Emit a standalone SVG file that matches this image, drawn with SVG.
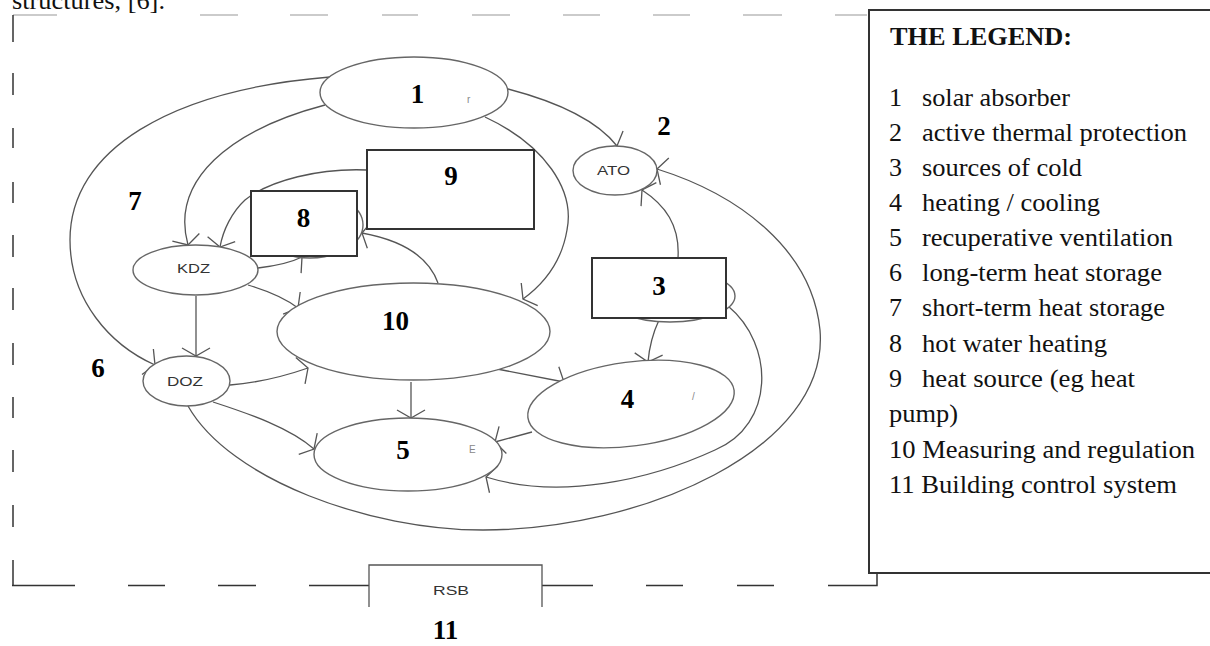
<svg xmlns="http://www.w3.org/2000/svg" width="1210" height="646" viewBox="0 0 1210 646">
<defs>
<style>
.conn{fill:none;stroke:#555;stroke-width:1.3;marker-end:url(#arr)}
.shape{fill:#fff;stroke:#666;stroke-width:1.4}
.box{fill:#fff;stroke:#333;stroke-width:2}
.lbl{font-family:"Liberation Serif","Times New Roman",serif;font-weight:bold;font-size:27px;fill:#000;text-anchor:middle}
.abbr{font-family:"Liberation Sans",Arial,sans-serif;font-size:13px;fill:#333;text-anchor:middle}
.leg{font-family:"Liberation Serif","Times New Roman",serif;font-size:26px;fill:#111}
.mark{font-family:"Liberation Sans",Arial,sans-serif;font-size:10px;fill:#888}
.dk{fill:none;stroke:#333;stroke-width:1.5}
.lt{fill:none;stroke:#bbb;stroke-width:1.5}
</style>
<marker id="arr" markerUnits="userSpaceOnUse" markerWidth="32" markerHeight="32" viewBox="-16 -16 32 32" refX="0" refY="0" orient="auto">
<path d="M-8,-14 L0,0 L-8,14" fill="none" stroke="#555" stroke-width="1.3"/>
</marker>
</defs>
<rect width="1210" height="646" fill="#fff"/>
<text class="leg" x="12" y="9" textLength="153" lengthAdjust="spacingAndGlyphs">structures, [6].</text>

<g id="frame">
<path class="lt" d="M13,15H57M200,15H238M290,15H328M382,15H418M472,15H510M563,15H600M653,15H690M743,15H782M835,15H867"/>
<path class="dk" d="M13,15V42M13,73V95M13,128V148M13,182V203M13,235V257M13,288V310M13,343V365M13,397V418M13,450V472M13,505V527M13,560V585.5"/>
<path class="dk" d="M12,585.5H75M128,585.5H165M218,585.5H256M309,585.5H369M542,585.5H593M646,585.5H683M737,585.5H774M828,585.5H877V573"/>
</g>

<g id="connectors">
<path class="conn" d="M325,105 C230,130 170,180 188,245"/>
<path class="conn" d="M330,77 C170,90 70,150 70,240 C70,300 110,345 155,365"/>
<path class="conn" d="M508,89 C550,100 595,118 617,146"/>
<path class="conn" d="M485,117 C545,145 575,190 567,230 C562,260 545,283 523,299"/>
<path class="conn" d="M678,258 C680,225 665,205 642,190"/>
<path class="conn" d="M188,406 C230,480 370,530 483,530 C640,530 830,450 820,330 C812,250 740,195 657,169"/>
<path class="conn" d="M728,306 C775,345 775,425 715,450 C650,480 560,500 486,477"/>
<path class="conn" d="M497,369 L564,382"/>
<path class="conn" d="M659,320 C652,335 649,350 648,362"/>
<path class="conn" d="M196,296 L196,356"/>
<path class="conn" d="M248,285 C265,290 285,298 298,308"/>
<path class="conn" d="M258,268 C275,266 292,262 302,257"/>
<path class="conn" d="M367,170 C320,168 270,180 245,200 C232,212 223,230 220,247"/>
<path class="conn" d="M438,283 C428,255 400,240 362,233"/>
<path class="conn" d="M230,385 C255,383 285,376 308,368"/>
<path class="conn" d="M213,402 C250,414 290,428 314,449"/>
<path class="conn" d="M411,382 L411,418"/>
<path class="conn" d="M532,432 L495,442"/>
</g>

<g id="node1">
<ellipse class="shape" cx="414" cy="92.5" rx="94" ry="35.5"/>
<text class="lbl" x="417.5" y="103">1</text>
<text class="mark" x="467" y="103">r</text>
</g>
<g id="node2">
<ellipse class="shape" cx="615" cy="170.5" rx="42" ry="24.5"/>
<text class="abbr" x="613.5" y="175" textLength="33" lengthAdjust="spacingAndGlyphs">ATO</text>
<text class="lbl" x="664" y="135">2</text>
</g>
<g id="node3">
<ellipse class="shape" cx="670" cy="296" rx="65" ry="26"/>
<rect class="box" x="592" y="258" width="134" height="60"/>
<text class="lbl" x="659" y="295">3</text>
</g>
<g id="node4">
<ellipse class="shape" cx="631" cy="404" rx="104" ry="42" transform="rotate(-7.5 631 404)"/>
<text class="lbl" x="627.5" y="408">4</text>
<text class="mark" x="692" y="400">/</text>
</g>
<g id="node5">
<ellipse class="shape" cx="408" cy="454.5" rx="94" ry="36.5"/>
<text class="lbl" x="403" y="459">5</text>
<text class="mark" x="469" y="453" fill="#aaa">E</text>
</g>
<g id="node6">
<ellipse class="shape" cx="186.5" cy="381" rx="43.5" ry="25"/>
<text class="abbr" x="185" y="386" textLength="36" lengthAdjust="spacingAndGlyphs">DOZ</text>
<text class="lbl" x="98" y="377">6</text>
</g>
<g id="node7">
<ellipse class="shape" cx="195.5" cy="270" rx="62.5" ry="25"/>
<text class="abbr" x="193.5" y="273" textLength="33" lengthAdjust="spacingAndGlyphs">KDZ</text>
<text class="lbl" x="135" y="210">7</text>
</g>
<g id="node8">
<ellipse class="shape" cx="310" cy="225" rx="53" ry="33"/>
<rect class="box" x="251" y="191" width="106" height="65"/>
<text class="lbl" x="303.5" y="227">8</text>
</g>
<g id="node9">
<rect class="box" x="367" y="150" width="167" height="79"/>
<text class="lbl" x="451" y="185">9</text>
</g>
<g id="node10">
<ellipse class="shape" cx="413.5" cy="331.5" rx="136.5" ry="48.5"/>
<text class="lbl" x="395.5" y="330">10</text>
</g>
<g id="node11">
<path d="M369,607 V565 H542 V607" fill="#fff" stroke="#555" stroke-width="1.3"/>
<text class="abbr" x="451" y="595" textLength="36" lengthAdjust="spacingAndGlyphs">RSB</text>
<text class="lbl" x="445.5" y="639">11</text>
</g>

<g id="legend">
<rect x="869" y="10" width="400" height="563" fill="#fff" stroke="#333" stroke-width="2"/>
<text class="leg" x="890" y="45" font-weight="bold" textLength="182" lengthAdjust="spacingAndGlyphs">THE LEGEND:</text>
<text class="leg" x="889" y="106">1</text><text class="leg" x="922" y="106" textLength="148" lengthAdjust="spacingAndGlyphs">solar absorber</text>
<text class="leg" x="889" y="141">2</text><text class="leg" x="922" y="141" textLength="265" lengthAdjust="spacingAndGlyphs">active thermal protection</text>
<text class="leg" x="889" y="176">3</text><text class="leg" x="922" y="176" textLength="160" lengthAdjust="spacingAndGlyphs">sources of cold</text>
<text class="leg" x="889" y="211">4</text><text class="leg" x="922" y="211" textLength="178" lengthAdjust="spacingAndGlyphs">heating / cooling</text>
<text class="leg" x="889" y="246">5</text><text class="leg" x="922" y="246" textLength="251" lengthAdjust="spacingAndGlyphs">recuperative ventilation</text>
<text class="leg" x="889" y="281">6</text><text class="leg" x="922" y="281" textLength="240" lengthAdjust="spacingAndGlyphs">long-term heat storage</text>
<text class="leg" x="889" y="316">7</text><text class="leg" x="922" y="316" textLength="243" lengthAdjust="spacingAndGlyphs">short-term heat storage</text>
<text class="leg" x="889" y="352">8</text><text class="leg" x="922" y="352" textLength="185" lengthAdjust="spacingAndGlyphs">hot water heating</text>
<text class="leg" x="889" y="387">9</text><text class="leg" x="922" y="387" textLength="213" lengthAdjust="spacingAndGlyphs">heat source (eg heat</text>
<text class="leg" x="889" y="422" textLength="69" lengthAdjust="spacingAndGlyphs">pump)</text>
<text class="leg" x="889" y="458" textLength="306" lengthAdjust="spacingAndGlyphs">10 Measuring and regulation</text>
<text class="leg" x="889" y="493" textLength="288" lengthAdjust="spacingAndGlyphs">11 Building control system</text>
</g>
</svg>
